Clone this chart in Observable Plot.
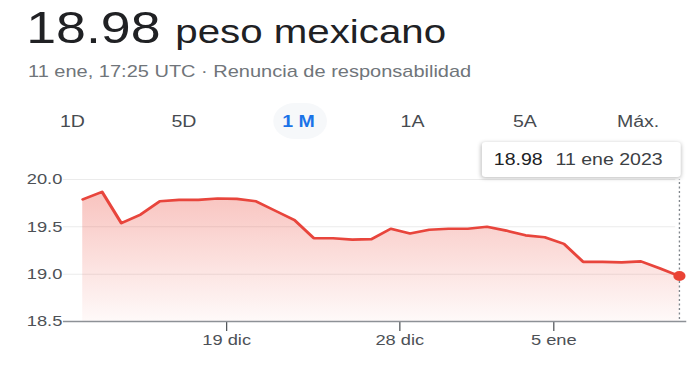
<!DOCTYPE html>
<html>
<head>
<meta charset="utf-8">
<script src="https://cdn.jsdelivr.net/npm/d3@7"></script>
<script src="https://cdn.jsdelivr.net/npm/@observablehq/plot@0.6"></script>
<style>
  html, body { margin: 0; padding: 0; background: #fff; width: 700px; height: 366px; overflow: hidden; }
  #stage { position: absolute; left: 0; top: 0; width: 574px; height: 366px;
           transform: scaleX(1.22); transform-origin: 0 0;
           font-family: "Liberation Sans", Arial, sans-serif; color: #202124; }
  .abs { position: absolute; white-space: nowrap; line-height: 1; }
  #price { left: 21.5px; top: 5.8px; font-size: 44px; color: #202124; }
  #unit { left: 143.7px; top: 15.1px; font-size: 33px; color: #202124; }
  #sub { left: 23px; top: 62.7px; font-size: 16.4px; color: #70757a; }
  .tab { position: absolute; top: 113.5px; width: 70px; margin-left: -35px; text-align: center;
         font-size: 16px; line-height: 1; color: #474b50; }
  .tab.active { color: #1a73e8; font-weight: bold; }
  #pill { position: absolute; left: 223.8px; top: 103px; width: 44px; height: 36px; border-radius: 18px; background: #f6f8fa; }
  #tip { position: absolute; left: 394.8px; top: 141.7px; width: 153px; height: 35px; padding-left: 10px;
         line-height: 35px; font-size: 16px; background: #fff; border-radius: 3px;
         box-shadow: 0 1px 4px rgba(0,0,0,0.28); white-space: nowrap; z-index: 2; }
  #tip .v { color: #202124; }
  #tip .d { color: #3c4043; margin-left: 10.5px; }
  #chart { position: absolute; left: 0; top: 140px; }
</style>
</head>
<body>
<div id="stage">
  <div id="price" class="abs"></div>
  <div id="unit" class="abs"></div>
  <div id="sub" class="abs"></div>
  <div id="pill"></div>
  <div id="tabs"></div>
  <div id="chart"></div>
  <div id="tip"><span class="v"></span><span class="d"></span></div>
</div>
<script>
// ---- data ----
const currencyName = "peso mexicano";
const subtitleText = "11 ene, 17:25 UTC · Renuncia de responsabilidad";
const tabLabels = ["1D", "5D", "1 M", "1A", "5A", "Máx."];
const activeTab = 2;
const tipDateLabel = "11 ene 2023";

const days = [
  "2022-12-11","2022-12-12","2022-12-13","2022-12-14","2022-12-15","2022-12-16","2022-12-17",
  "2022-12-18","2022-12-19","2022-12-20","2022-12-21","2022-12-22","2022-12-23","2022-12-24",
  "2022-12-25","2022-12-26","2022-12-27","2022-12-28","2022-12-29","2022-12-30","2022-12-31",
  "2023-01-01","2023-01-02","2023-01-03","2023-01-04","2023-01-05","2023-01-06","2023-01-07",
  "2023-01-08","2023-01-09","2023-01-10","2023-01-11"
];
const sampleTime = "T12:40:00Z";
const values = [
  19.79, 19.87, 19.54, 19.63, 19.77, 19.785, 19.785,
  19.80, 19.795, 19.77, 19.67, 19.57, 19.38, 19.38,
  19.365, 19.37, 19.48, 19.43, 19.47, 19.48, 19.48,
  19.50, 19.46, 19.41, 19.39, 19.32, 19.13, 19.13,
  19.125, 19.135, 19.06, 18.98
];

const xTickDays = ["2022-12-19", "2022-12-28", "2023-01-05"];
const xTickLabels = ["19 dic", "28 dic", "5 ene"];
const yTicks = [18.5, 19.0, 19.5, 20.0];
const gridTicks = [19.0, 19.5, 20.0];
const yDomain = [18.5, 20.0];
const xDomain = [new Date("2022-12-10T12:37:00Z"), new Date("2023-01-11T21:56:00Z")];
const gridEnd = new Date("2023-01-11T08:10:00Z");

// ---- build ----
const data = days.map((d, i) => ({ date: new Date(d + sampleTime), value: values[i] }));
const last = data[data.length - 1];
const xTicks = xTickDays.map(d => new Date(d + "T00:00:00Z"));

document.getElementById("price").textContent = last.value.toFixed(2);
document.getElementById("unit").textContent = currencyName;
document.getElementById("sub").textContent = subtitleText;
document.querySelector("#tip .v").textContent = last.value.toFixed(2);
document.querySelector("#tip .d").textContent = tipDateLabel;

const tabCenters = [59.4, 150.8, 244.7, 338.1, 430.3, 523];
const tabs = document.getElementById("tabs");
tabLabels.forEach((t, i) => {
  const el = document.createElement("div");
  el.className = "tab" + (i === activeTab ? " active" : "");
  el.style.left = tabCenters[i] + "px";
  el.textContent = t;
  tabs.appendChild(el);
});

const chart = Plot.plot({
  width: 574,
  height: 226,
  marginLeft: 51.6,
  marginRight: 11.5,
  marginTop: 39,
  marginBottom: 45,
  style: { fontFamily: "Liberation Sans, Arial, sans-serif", fontSize: "15px", color: "#4d5156", background: "transparent", overflow: "visible" },
  x: { type: "utc", domain: xDomain, ticks: xTicks, label: null, tickSize: 10, tickPadding: 2.5,
       tickFormat: d => xTickLabels[xTicks.findIndex(t => +t === +d)] },
  y: { domain: yDomain, ticks: yTicks, label: null, tickSize: 0, tickPadding: 1,
       tickFormat: d => d.toFixed(1) },
  marks: [
    Plot.ruleY(gridTicks, { x1: () => xDomain[0], x2: () => gridEnd, stroke: "#ebebeb", strokeWidth: 1 }),
    Plot.areaY(data, { x: "date", y1: () => yDomain[0], y2: "value", fill: "url(#areaGrad)" }),
    Plot.ruleY([yDomain[0]], { stroke: "#8d9196", strokeWidth: 1.3 }),
    Plot.ruleX([last], { x: "date", y1: () => yDomain[0], y2: () => yDomain[1], insetTop: -2, stroke: "#80868b", strokeWidth: 1.1, strokeDasharray: "2,2.5" }),
    Plot.lineY(data, { x: "date", y: "value", stroke: "#e8453c", strokeWidth: 2.6 }),
    Plot.dot([last], { x: "date", y: "value", r: 5, fill: "#ea4335", stroke: null })
  ]
});

const svg = chart.tagName.toLowerCase() === "svg" ? chart : chart.querySelector("svg");
const defs = d3.select(svg).insert("defs", ":first-child");
const grad = defs.append("linearGradient").attr("id", "areaGrad")
  .attr("x1", 0).attr("y1", 0).attr("x2", 0).attr("y2", 1);
grad.append("stop").attr("offset", "0%").attr("stop-color", "#ea4335").attr("stop-opacity", 0.32);
grad.append("stop").attr("offset", "100%").attr("stop-color", "#ea4335").attr("stop-opacity", 0.03);

document.getElementById("chart").appendChild(chart);
</script>
</body>
</html>
